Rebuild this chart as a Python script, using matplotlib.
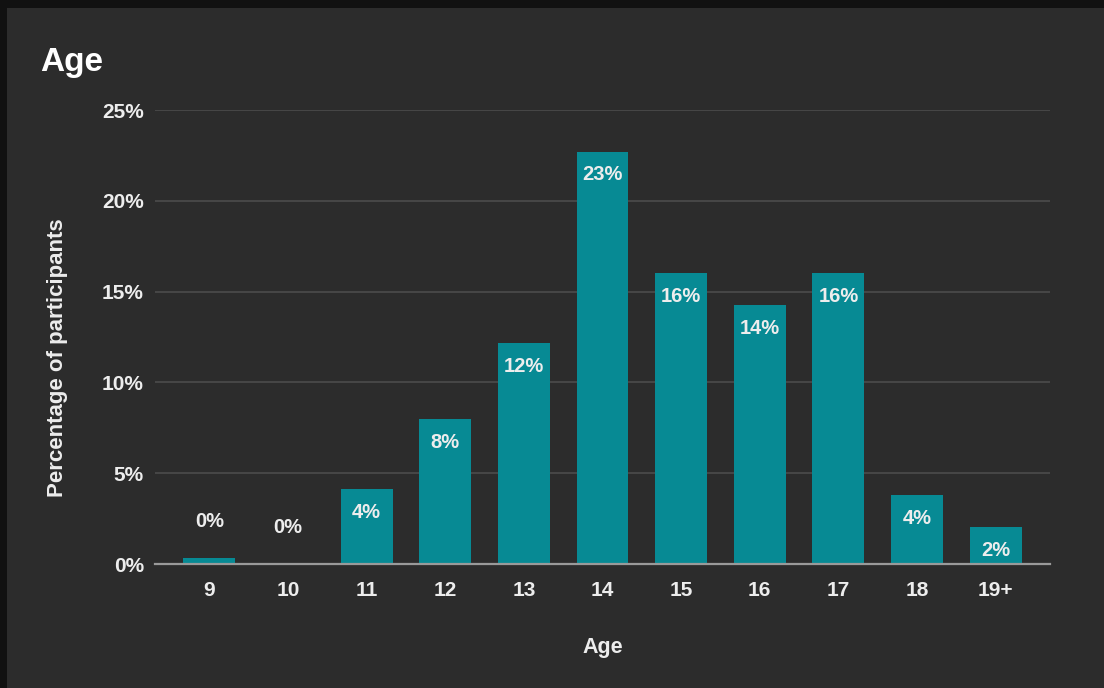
import numpy as np
import matplotlib.pyplot as plt
import matplotlib.patches as patches

# data
ages = ['9', '10', '11', '12', '13', '14', '15', '16', '17', '18', '19+']
pct = [0.33, 0.0, 4.13, 7.98, 12.17, 22.7, 16.02, 14.26, 16.02, 3.8, 2.04]
labels = ['0%', '0%', '4%', '8%', '12%', '23%', '16%', '14%', '16%', '4%', '2%']
yticks = [0, 5, 10, 15, 20, 25]

bg = '#2c2c2c'
barcol = '#078a94'
txt = '#ededed'

plt.rcParams['font.family'] = ['Liberation Sans', 'DejaVu Sans']

fig = plt.figure(figsize=(11.04, 6.88), dpi=100)
fig.patch.set_facecolor('#111111')
# inner panel
fig.patches.append(patches.Rectangle((7/1104, 0), 1 - 7/1104, 1 - 8/688,
                                     transform=fig.transFigure, facecolor=bg,
                                     edgecolor='none', zorder=-5))

ax = fig.add_axes([155/1104, (688-564)/688, (1050-155)/1104, (564-110)/688])
ax.set_facecolor(bg)

x = np.arange(len(ages))
bars = ax.bar(x, pct, width=0.66, color=barcol, zorder=3)

for xi, v, lab in zip(x, pct, labels):
    if v < 1:
        # tiny bars: label sits above
        ax.text(xi, v + 2.0, lab, ha='center', va='center',
                color=txt, fontsize=14.5, fontweight='bold', zorder=4)
    else:
        ax.text(xi, v - 1.27, lab, ha='center', va='center',
                color=txt, fontsize=14.5, fontweight='bold', zorder=4)

ax.set_xlim(-0.69, len(ages) - 1 + 0.69)
ax.set_ylim(0, 25)
ax.set_yticks(yticks)
ax.set_yticklabels([f'{t}%' for t in yticks])
ax.set_xticks(x)
ax.set_xticklabels(ages)
ax.tick_params(axis='both', length=0, colors=txt, labelsize=15)
ax.tick_params(axis='y', pad=8)
ax.tick_params(axis='x', pad=12)
for lab in ax.get_xticklabels() + ax.get_yticklabels():
    lab.set_fontweight('bold')

ax.grid(axis='y', color='#4c4c4c', linewidth=1.2, zorder=0)
for s in ['top', 'right', 'left']:
    ax.spines[s].set_visible(False)
ax.spines['bottom'].set_color('#9a9a9a')
ax.spines['bottom'].set_linewidth(1.6)
ax.spines['bottom'].set_zorder(5)

ax.set_xlabel('Age', color=txt, fontsize=15.5, fontweight='bold')
ax.xaxis.set_label_coords(0.5, -(648 - 564) / 454, transform=ax.transAxes)
ax.xaxis.label.set_va('center')
ax.set_ylabel('Percentage of participants', color=txt, fontsize=16,
              fontweight='bold')
ax.yaxis.set_label_coords(-(155 - 58) / 895, 0.5 - (358 - 337) / 454)
ax.yaxis.label.set_va('center')

fig.text(40/1104, 1 - 62/688, 'Age', color='white', fontsize=24,
         fontweight='bold', ha='left', va='center')

fig.savefig('out.png', dpi=100, facecolor=fig.get_facecolor())
